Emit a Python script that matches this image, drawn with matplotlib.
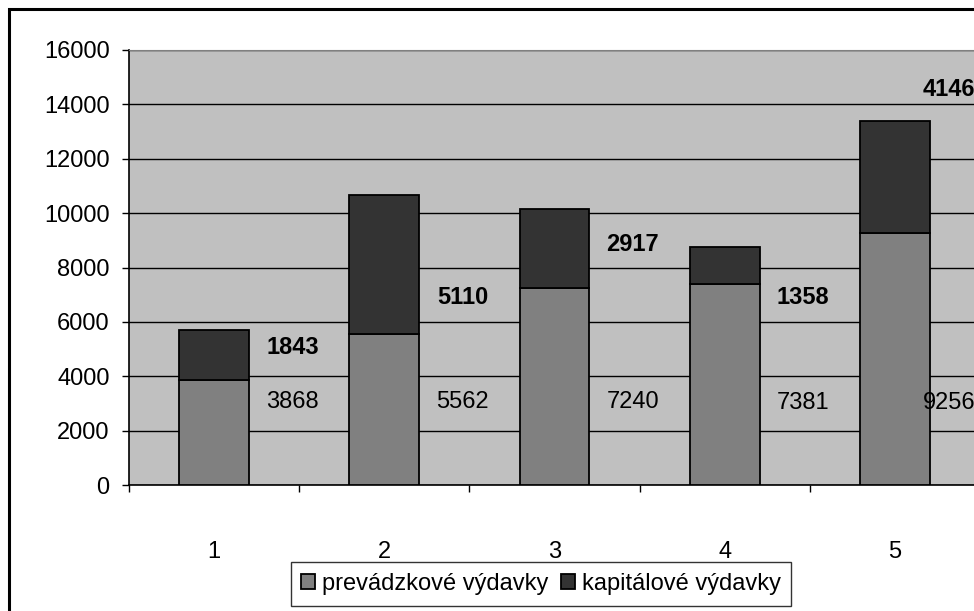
import matplotlib.pyplot as plt
from matplotlib.patches import Rectangle

plt.rcParams['font.family'] = ['Liberation Sans', 'DejaVu Sans']

# data
kategorie = ['1', '2', '3', '4', '5']
prevadzkove = [3868, 5562, 7240, 7381, 9256]
kapitalove = [1843, 5110, 2917, 1358, 4146]
# umiestnenie popiskov (ako v povodnom grafe)
popis_dole_y = [3050, 3050, 3050, 3000, 3000]
popis_hore_y = [5040, 6880, 8830, 6880, 14530]
popis_dx = [0.46, 0.46, 0.46, 0.46, 0.32]

fig = plt.figure(figsize=(9.74, 6.11), dpi=100)
ax = fig.add_axes([129/974, 1-485/611, 851/974, 435/611])
ax.set_facecolor('#C0C0C0')

x = range(1, len(kategorie)+1)
ax.bar(x, prevadzkove, width=0.41, color='#808080', edgecolor='black', linewidth=1.3,
       label='prevádzkové výdavky', zorder=3)
ax.bar(x, kapitalove, width=0.41, bottom=prevadzkove, color='#333333', edgecolor='black',
       linewidth=1.3, label='kapitálové výdavky', zorder=3)

for i in range(len(kategorie)):
    ax.text(i+1+popis_dx[i], popis_dole_y[i], str(prevadzkove[i]), ha='center', va='center',
            fontsize=17, zorder=4)
    ax.text(i+1+popis_dx[i], popis_hore_y[i], str(kapitalove[i]), ha='center', va='center',
            fontsize=17, fontweight='bold', zorder=4)

ax.set_xlim(0.5, 5.5)
ax.set_ylim(0, 16000)
ax.set_yticks(range(0, 16001, 2000))
ax.grid(axis='y', color='black', linewidth=1, zorder=1)
ax.set_xticks(list(x))
ax.set_xticklabels(kategorie)
ax.set_xticks([0.5, 1.5, 2.5, 3.5, 4.5, 5.5], minor=True)
ax.tick_params(axis='x', which='major', length=0, pad=40, labelsize=17)
ax.tick_params(axis='x', which='minor', length=5, width=1, direction='out')
ax.tick_params(axis='y', length=5, width=1, pad=9, labelsize=17)
ax.spines['top'].set_color('#808080')
ax.spines['right'].set_visible(False)
ax.spines['left'].set_linewidth(1.2)
ax.spines['bottom'].set_linewidth(1.2)

leg = fig.legend(loc='center', bbox_to_anchor=(541/974, 1-584/611), ncol=2, fontsize=17,
                 frameon=True, fancybox=False, edgecolor='black', handlelength=0.6,
                 handleheight=0.6, handletextpad=0.3, columnspacing=0.5,
                 borderpad=0.45, borderaxespad=0)
leg.get_frame().set_linewidth(1)

# ramcek okolo grafu
fig.patches.append(Rectangle((9/974, -0.1), 2, 1.1 - 8.5/611, transform=fig.transFigure,
                             fill=False, edgecolor='black', linewidth=2.2))

fig.savefig('out.png', dpi=100)
